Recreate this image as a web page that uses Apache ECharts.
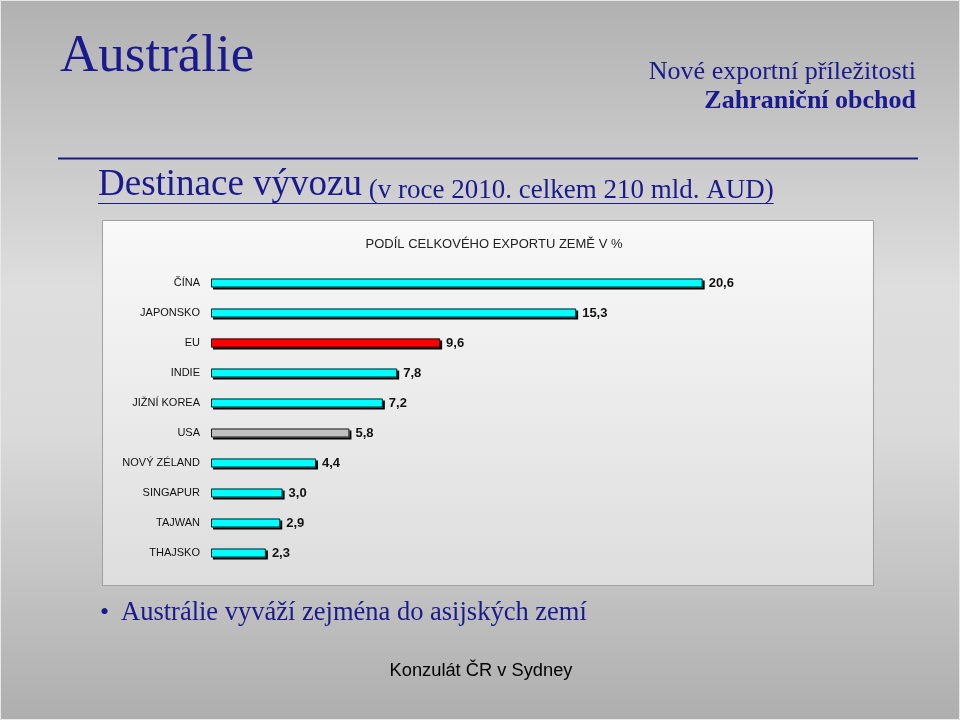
<!DOCTYPE html>
<html>
<head>
<meta charset="utf-8">
<script src="https://cdn.jsdelivr.net/npm/echarts@6/dist/echarts.min.js"></script>
<style>html,body{margin:0;padding:0;}#c{width:960px;height:720px;}</style>
</head>
<body>
<div id="c"></div>
<script>
const categories = ['ČÍNA','JAPONSKO','EU','INDIE','JIŽNÍ KOREA','USA','NOVÝ ZÉLAND','SINGAPUR','TAJWAN','THAJSKO'];
const shares = [20.6, 15.3, 9.6, 7.8, 7.2, 5.8, 4.4, 3.0, 2.9, 2.3];
const barColors = ['#00ffff','#00ffff','#ff0000','#00ffff','#00ffff','#c0c0c0','#00ffff','#00ffff','#00ffff','#00ffff'];

const navy = '#1a1a8e';
const serif = '"Liberation Serif", "Times New Roman", serif';
const sans = '"Liberation Sans", Arial, sans-serif';

const mctx = document.createElement('canvas').getContext('2d');
function tw(font, s){ mctx.font = font; return mctx.measureText(s).width; }

const f1 = '37px ' + serif, f2 = '27px ' + serif;
const t1 = 'Destinace vývozu', t2 = ' (v roce 2010. celkem 210 mld. AUD)';
const x0 = 98;
const w1 = tw(f1, t1), w2 = tw(f2, t2);

const chart = echarts.init(document.getElementById('c'));
chart.setOption({
  backgroundColor: {type:'linear', x:0, y:0, x2:0, y2:1, colorStops:[
    {offset:0, color:'#b1b1b1'},{offset:0.4, color:'#dedede'},{offset:0.6, color:'#dadada'},{offset:1, color:'#aeaeae'}]},
  animation: false,
  graphic: [
    {type:'rect', z:-10, shape:{x:0.5,y:0.5,width:959,height:719}, style:{fill:'none', stroke:'#e8e8e8', lineWidth:1}},
    {type:'rect', z:-5, shape:{x:102.5,y:220.5,width:771,height:365},
      style:{fill:{type:'linear',x:0,y:0,x2:0,y2:1,colorStops:[{offset:0,color:'#f9f9f9'},{offset:1,color:'#dddddd'}]}, stroke:'#a0a0a0', lineWidth:1}},
    {type:'text', style:{text:'Austrálie', x:60, y:57, font:'53px '+serif, fill:navy, textAlign:'left', textVerticalAlign:'middle'}},
    {type:'text', style:{text:'Nové exportní příležitosti', x:916, y:72, font:'26px '+serif, fill:navy, textAlign:'right', textVerticalAlign:'middle'}},
    {type:'text', style:{text:'Zahraniční obchod', x:916, y:101, font:'bold 26px '+serif, fill:navy, textAlign:'right', textVerticalAlign:'middle'}},
    {type:'line', shape:{x1:58,y1:158.5,x2:918,y2:158.5}, style:{stroke:navy, lineWidth:2}},
    {type:'text', style:{text:t1, x:x0, y:204, font:f1, fill:navy, textAlign:'left', textVerticalAlign:'bottom'}},
    {type:'text', style:{text:t2, x:x0+w1, y:204, font:f2, fill:navy, textAlign:'left', textVerticalAlign:'bottom'}},
    {type:'line', shape:{x1:x0,y1:203.5,x2:x0+w1+w2,y2:203.5}, style:{stroke:navy, lineWidth:1}},
    {type:'text', style:{text:'•', x:100, y:613, font:'26px '+serif, fill:navy, textAlign:'left', textVerticalAlign:'middle'}},
    {type:'text', style:{text:'Austrálie vyváží zejména do asijských zemí', x:121, y:613, font:'26.5px '+serif, fill:navy, textAlign:'left', textVerticalAlign:'middle'}},
    {type:'text', style:{text:'Konzulát ČR v Sydney', x:481, y:671, font:'18.3px '+sans, fill:'#000', textAlign:'center', textVerticalAlign:'middle'}}
  ],
  title: {text:'PODÍL CELKOVÉHO EXPORTU ZEMĚ V %', left:489, top:233, textAlign:'center',
    textStyle:{fontFamily:sans, fontSize:13, fontWeight:'normal', color:'#222'}},
  grid: {left:211, top:268, width:716, height:300, containLabel:false},
  xAxis: {type:'value', min:0, max:30, show:false},
  yAxis: {type:'category', data:categories, inverse:true,
    axisLine:{show:false}, axisTick:{show:false}, splitLine:{show:false},
    axisLabel:{fontFamily:sans, fontSize:11, color:'#111', margin:11}},
  series: [{
    type:'bar', barWidth:9, z:2,
    data: shares.map((v,i)=>({value:v, itemStyle:{color:barColors[i]}})),
    itemStyle:{borderWidth:0, shadowColor:'#000', shadowBlur:0, shadowOffsetX:2, shadowOffsetY:2},
    label:{show:true, position:'right', distance:6, fontFamily:sans, fontSize:13, fontWeight:'bold', color:'#111',
      formatter: p => p.value.toFixed(1).replace('.', ',')}
  },{
    type:'bar', barWidth:9, barGap:'-100%', z:3, silent:true,
    data: shares,
    itemStyle:{color:'rgba(0,0,0,0)', borderColor:'#1a1a1a', borderWidth:1}
  }]
});
</script>
</body>
</html>
